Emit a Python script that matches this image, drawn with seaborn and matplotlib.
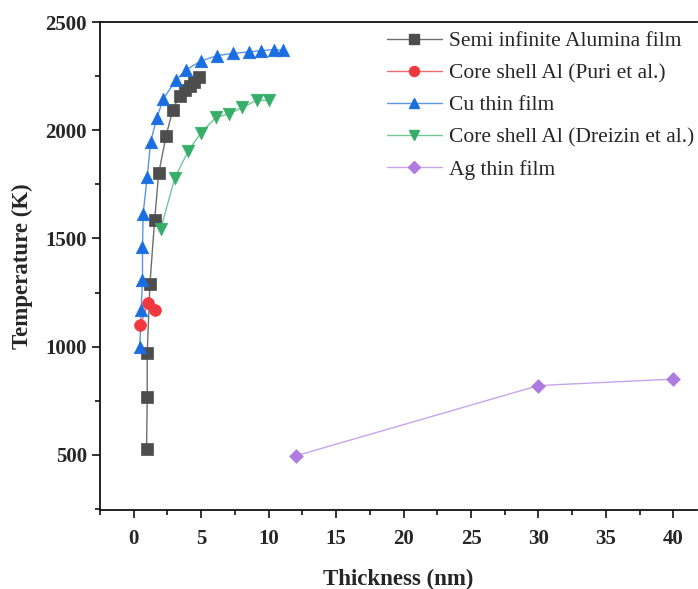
import numpy as np
import pandas as pd
import matplotlib
matplotlib.use("Agg")
import matplotlib.pyplot as plt
from matplotlib.lines import Line2D
from matplotlib.ticker import MultipleLocator
import seaborn as sns

# Semi infinite Alumina film
alumina_x = [0.95, 1.0, 1.0, 1.2, 1.55, 1.85, 2.4, 2.9, 3.4, 3.8, 4.2, 4.5, 4.85]
alumina_y = [525, 765, 970, 1290, 1585, 1800, 1975, 2095, 2160, 2185, 2205, 2225, 2245]

# Core shell Al (Puri et al.)
puri_x = [0.5, 1.05, 1.55]
puri_y = [1100, 1200, 1170]

# Cu thin film
cu_x = [0.45, 0.55, 0.65, 0.65, 0.7, 1.0, 1.25, 1.7, 2.2, 3.1, 3.9, 5.0, 6.2, 7.35, 8.55, 9.45, 10.4, 11.05]
cu_y = [1000, 1170, 1310, 1460, 1615, 1785, 1945, 2055, 2145, 2230, 2280, 2320, 2345, 2355, 2362, 2368, 2372, 2370]

# Core shell Al (Dreizin et al.)
dreizin_x = [2.0, 3.05, 4.05, 4.95, 6.1, 7.05, 8.05, 9.1, 10.05]
dreizin_y = [1545, 1780, 1905, 1985, 2060, 2075, 2105, 2138, 2138]

# Ag thin film
ag_x = [12, 30, 40]
ag_y = [495, 820, 850]

series_names = [
    "Semi infinite Alumina film",
    "Core shell Al (Puri et al.)",
    "Cu thin film",
    "Core shell Al (Dreizin et al.)",
    "Ag thin film",
]
series_data = [
    (alumina_x, alumina_y),
    (puri_x, puri_y),
    (cu_x, cu_y),
    (dreizin_x, dreizin_y),
    (ag_x, ag_y),
]
marker_colors = ["#4d4d4d", "#f0383f", "#1a6ee0", "#36ae6a", "#b07be0"]
line_colors = ["#6e6e6e", "#f06a6e", "#5a96ea", "#72c894", "#c8a4ee"]
markers = ["s", "o", "^", "v", "D"]
msizes = [8.0, 8.5, 9.0, 9.0, 7.0]

sns.set_theme(style="ticks")
plt.rcParams["font.family"] = ["Liberation Serif", "DejaVu Serif"]

fig = plt.figure(figsize=(6.98, 5.89), dpi=100)
ax = fig.add_axes([100 / 698, 1 - 510 / 589, 597 / 698, 488 / 589])

for (xs, ys), name, mc, lc, mk, ms in zip(series_data, series_names,
                                           marker_colors, line_colors, markers, msizes):
    df = pd.DataFrame({"x": xs, "y": ys})
    sns.lineplot(data=df, x="x", y="y", sort=False, color=lc, lw=1.0,
                 estimator=None, ax=ax, legend=False)
    sns.scatterplot(data=df, x="x", y="y", marker=mk, s=ms ** 2, color=mc,
                    edgecolor=mc, linewidth=0.5, ax=ax, legend=False, zorder=3)

ax.set_xlim(-2.5, 41.75)
ax.set_ylim(245, 2500)
ax.xaxis.set_major_locator(MultipleLocator(5))
ax.xaxis.set_minor_locator(MultipleLocator(2.5))
ax.yaxis.set_major_locator(MultipleLocator(500))
ax.yaxis.set_minor_locator(MultipleLocator(250))
ax.tick_params(which="major", direction="out", length=6, width=1.2,
               labelsize=15, color="#111111", top=False, right=False)
ax.tick_params(axis="x", which="major", pad=8)
ax.tick_params(which="minor", direction="out", length=3.5, width=1.2,
               color="#111111", top=False, right=False)
for lab in ax.get_xticklabels() + ax.get_yticklabels():
    lab.set_fontweight("bold")

for side in ["left", "bottom", "top"]:
    ax.spines[side].set_linewidth(1.3)
    ax.spines[side].set_color("#111111")
ax.spines["right"].set_visible(False)

ax.set_xlabel("Thickness (nm)", fontsize=16.5, fontweight="bold", labelpad=14)
ax.set_ylabel("Temperature (K)", fontsize=16.5, fontweight="bold", labelpad=9)

handles = [
    Line2D([], [], color=lc, lw=1.0, marker=mk, markersize=ms * 0.85,
           markerfacecolor=mc, markeredgecolor=mc)
    for mc, lc, mk, ms in zip(marker_colors, line_colors, markers, msizes)
]
fig.legend(handles, series_names, loc="upper left",
           bbox_to_anchor=(387 / 698, 1 - 31 / 589), frameon=False,
           fontsize=15.5, handlelength=2.55, handletextpad=0.35,
           labelspacing=0.56, borderpad=0, borderaxespad=0)

fig.savefig("out.png", dpi=100)
